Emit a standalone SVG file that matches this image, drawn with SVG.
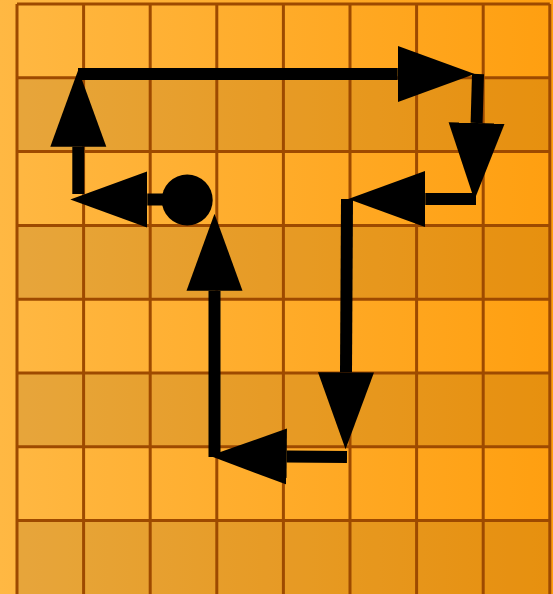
<svg xmlns="http://www.w3.org/2000/svg" width="553" height="594" viewBox="0 0 553 594">
  <defs>
    <linearGradient id="bg" x1="0" y1="0" x2="553" y2="0" gradientUnits="userSpaceOnUse">
      <stop offset="0" stop-color="#FFB843"/>
      <stop offset="1" stop-color="#FF9F10"/>
    </linearGradient>
    <marker id="arrow" markerUnits="userSpaceOnUse" markerWidth="80" markerHeight="60" viewBox="0 -30 80 60" refX="0" refY="0" orient="auto">
      <path d="M0,-28 L77,0 L0,28 Z" fill="#000"/>
    </marker>
  </defs>
  <style>
    .dark { fill: #000; fill-opacity: 0.095; }
    .grid { stroke: #9E4A00; stroke-width: 3; fill: none; }
    .conn { stroke: #000; stroke-width: 12; fill: none; stroke-linecap: butt; marker-end: url(#arrow); }
  </style>

  <g id="board">
    <rect x="0" y="0" width="553" height="594" fill="url(#bg)"/>
    <rect class="dark" x="17" y="77.8" width="533" height="73.8"/>
    <rect class="dark" x="17" y="225.4" width="533" height="73.8"/>
    <rect class="dark" x="17" y="373" width="533" height="73.8"/>
    <rect class="dark" x="17" y="520.6" width="533" height="74"/>
    <g class="grid">
      <line x1="17" y1="4" x2="17" y2="594"/>
      <line x1="83.6" y1="4" x2="83.6" y2="594"/>
      <line x1="150.2" y1="4" x2="150.2" y2="594"/>
      <line x1="216.8" y1="4" x2="216.8" y2="594"/>
      <line x1="283.4" y1="4" x2="283.4" y2="594"/>
      <line x1="350" y1="4" x2="350" y2="594"/>
      <line x1="416.6" y1="4" x2="416.6" y2="594"/>
      <line x1="483.2" y1="4" x2="483.2" y2="594"/>
      <line x1="549.8" y1="4" x2="549.8" y2="594"/>
      <line x1="17" y1="4" x2="549.8" y2="4"/>
      <line x1="17" y1="77.8" x2="549.8" y2="77.8"/>
      <line x1="17" y1="151.6" x2="549.8" y2="151.6"/>
      <line x1="17" y1="225.4" x2="549.8" y2="225.4"/>
      <line x1="17" y1="299.2" x2="549.8" y2="299.2"/>
      <line x1="17" y1="373" x2="549.8" y2="373"/>
      <line x1="17" y1="446.8" x2="549.8" y2="446.8"/>
      <line x1="17" y1="520.6" x2="549.8" y2="520.6"/>
    </g>
  </g>

  <g id="start">
    <circle cx="187.2" cy="200" r="25.5" fill="#000"/>
  </g>

  <g id="connectors">
    <path class="conn" d="M187 199.5 L147.3 199.5"/>
    <path class="conn" d="M78.3 194 L78.3 146.7"/>
    <path class="conn" d="M78 74 L397.7 74"/>
    <path class="conn" d="M478 74 L476.6 123"/>
    <path class="conn" d="M476 199 L425.3 199"/>
    <path class="conn" d="M347 199 L346 372.3"/>
    <path class="conn" d="M347 457 L286.7 456.5"/>
    <path class="conn" d="M214.5 457 L214.5 290.7"/>
  </g>
</svg>
